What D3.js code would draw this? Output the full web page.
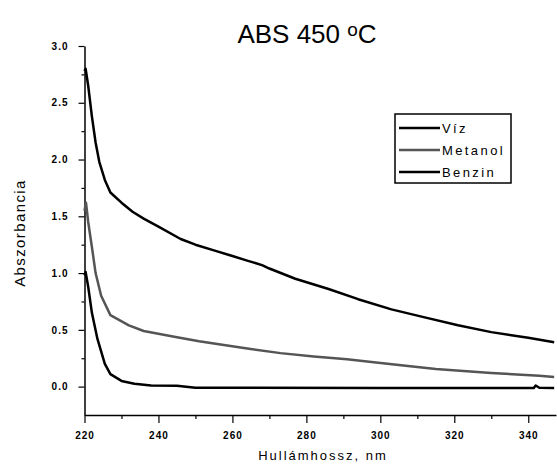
<!DOCTYPE html>
<html>
<head>
<meta charset="UTF-8">
<title>ABS 450</title>
<script src="https://cdn.jsdelivr.net/npm/d3@7/dist/d3.min.js"></script>
<style>
  * { margin: 0; padding: 0; }
  body { background: #fff; }
  svg { display: block; font-family: Arial, "Liberation Sans", sans-serif; }
</style>
</head>
<body>
<div id="chart"></div>
<script>
// data (wavelength nm, absorbance)
var vizX = [220, 220.3, 221, 222, 223, 224, 225.5, 227, 230, 233, 236, 240, 246, 250, 255, 260, 264, 268, 270, 277, 286, 294, 303, 312, 321, 330, 340, 347];
var vizY = [2.78, 2.80, 2.65, 2.38, 2.15, 1.98, 1.82, 1.71, 1.62, 1.54, 1.48, 1.41, 1.30, 1.25, 1.20, 1.15, 1.11, 1.07, 1.04, 0.95, 0.86, 0.77, 0.68, 0.61, 0.54, 0.48, 0.43, 0.39];

var metX = [220, 220.4, 221, 222, 223, 224.5, 227, 232, 236, 245, 251, 255, 264, 273, 282, 291, 297, 305, 315, 330, 343, 347];
var metY = [1.55, 1.62, 1.45, 1.23, 1.00, 0.80, 0.63, 0.54, 0.49, 0.435, 0.40, 0.38, 0.335, 0.295, 0.265, 0.24, 0.22, 0.19, 0.155, 0.12, 0.095, 0.085];

var benX = [220, 220.3, 221, 222, 223.5, 225.5, 227, 230, 233.5, 238, 245, 250, 300, 341.5, 342, 343, 347];
var benY = [0.98, 1.01, 0.88, 0.65, 0.42, 0.20, 0.11, 0.05, 0.025, 0.01, 0.008, -0.01, -0.012, -0.012, 0.01, -0.01, -0.012];

var seriesNames = ["Víz", "Metanol", "Benzin"];
var seriesColors = ["#000", "#555", "#000"];

var xTicks = [220, 240, 260, 280, 300, 320, 340];
var yTicks = [0.0, 0.5, 1.0, 1.5, 2.0, 2.5, 3.0];

var W = 557, H = 470;
var svg = d3.select("#chart").append("svg").attr("width", W).attr("height", H);

// scales
var x = d3.scaleLinear().domain([220, 347.5]).range([84.5, 556]);
var y = d3.scaleLinear().domain([-0.25, 3.0]).range([415, 46]);

// title
var title = svg.append("text")
  .attr("x", 307).attr("y", 43)
  .attr("text-anchor", "middle")
  .style("font-size", "26px")
  .text("ABS 450 ");
title.append("tspan").attr("dy", -7).style("font-size", "19px").text("o");
title.append("tspan").attr("dy", 7).text("C");

// minor ticks
var gx = svg.append("g").attr("transform", "translate(0,415)");
gx.call(d3.axisBottom(x).tickValues(d3.range(230, 347, 20)).tickSize(4).tickFormat(""));
gx.call(function (g) { g.select(".domain").remove(); });
var gxM = svg.append("g").attr("transform", "translate(0,415)");
gxM.call(d3.axisBottom(x).tickValues(xTicks).tickSize(8).tickSizeOuter(0).tickPadding(9)
  .tickFormat(d3.format("d")));

var gy = svg.append("g").attr("transform", "translate(84.5,0)");
gy.call(d3.axisLeft(y).tickValues(d3.range(0.25, 3, 0.5)).tickSize(3).tickFormat(""));
gy.call(function (g) { g.select(".domain").remove(); });
var gyM = svg.append("g").attr("transform", "translate(84.5,0)");
gyM.call(d3.axisLeft(y).tickValues(yTicks).tickSize(6).tickSizeOuter(0).tickPadding(10)
  .tickFormat(d3.format(".1f")));

svg.selectAll(".domain").attr("stroke", "#000").attr("stroke-width", 1.5);
svg.selectAll(".tick line").attr("stroke", "#000").attr("stroke-width", 1.2);
svg.selectAll(".tick text")
  .style("font-size", "10px")
  .style("font-weight", "bold")
  .style("letter-spacing", "1px")
  .attr("fill", "#000");

// axis labels
svg.append("text")
  .attr("transform", "translate(25,233) rotate(-90)")
  .attr("text-anchor", "middle")
  .style("font-size", "15px")
  .style("letter-spacing", "1.4px")
  .text("Abszorbancia");

svg.append("text")
  .attr("x", 323).attr("y", 460)
  .attr("text-anchor", "middle")
  .style("font-size", "13px")
  .style("letter-spacing", "2px")
  .text("Hullámhossz, nm");

// curves
var line = d3.line().x(function (d) { return x(d[0]); }).y(function (d) { return y(d[1]); });
var series = [d3.zip(vizX, vizY), d3.zip(metX, metY), d3.zip(benX, benY)];
svg.append("g").selectAll("path")
  .data(series)
  .enter()
  .append("path")
  .attr("d", line)
  .attr("fill", "none")
  .attr("stroke", function (d, i) { return seriesColors[i]; })
  .attr("stroke-width", 2.5)
  .attr("stroke-linejoin", "round");

// legend
var lg = svg.append("g").attr("transform", "translate(395,114)");
lg.append("rect").attr("width", 116).attr("height", 69)
  .attr("fill", "#fff").attr("stroke", "#000").attr("stroke-width", 1.5);
var item = lg.selectAll(".item")
  .data(seriesNames)
  .enter()
  .append("g")
  .attr("class", "item")
  .attr("transform", function (d, i) { return "translate(0," + (14 + i * 22) + ")"; });
item.append("line")
  .attr("x1", 4).attr("x2", 45)
  .attr("stroke", function (d, i) { return seriesColors[i]; })
  .attr("stroke-width", 2.5);
item.append("text")
  .attr("x", 47).attr("dy", "0.35em")
  .style("font-size", "13px")
  .style("letter-spacing", "2.4px")
  .text(function (d) { return d; });
</script>
</body>
</html>
